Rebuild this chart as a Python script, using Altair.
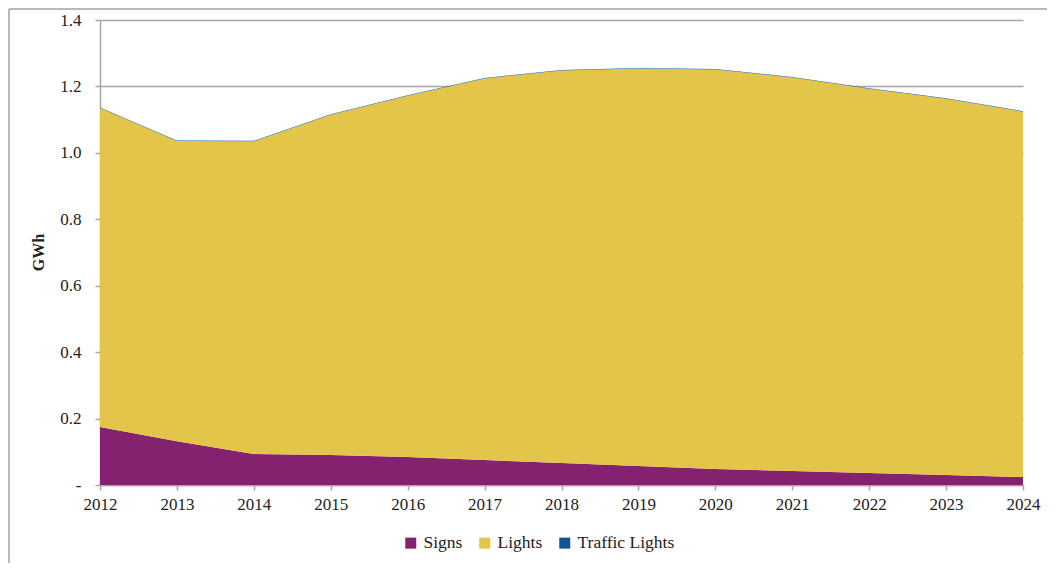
import altair as alt
import pandas as pd

years = [2012, 2013, 2014, 2015, 2016, 2017, 2018, 2019, 2020, 2021, 2022, 2023, 2024]
signs = [0.175, 0.132, 0.093, 0.090, 0.084, 0.075, 0.066, 0.057, 0.048, 0.042, 0.036, 0.030, 0.024]
lights = [0.960, 0.904, 0.942, 1.025, 1.088, 1.149, 1.182, 1.197, 1.203, 1.185, 1.157, 1.133, 1.100]
traffic = [0.0015, 0.0015, 0.0015, 0.0015, 0.0015, 0.0015, 0.0015, 0.0015, 0.0015, 0.0015, 0.0015, 0.0015, 0.0015]
series = ["Signs", "Lights", "Traffic Lights"]
colors = ["#85226F", "#E3C54A", "#0F5499"]

rows = []
for i, y in enumerate(years):
    for k, (name, vals) in enumerate(zip(series, [signs, lights, traffic])):
        rows.append({"year": y, "series": name, "value": vals[i], "ord": k})
df = pd.DataFrame(rows)

FONT = "Liberation Serif"
GRAY = "#A6A6A6"

area = alt.Chart(df).mark_area(opacity=1).encode(
    x=alt.X("year:Q", scale=alt.Scale(domain=[2012, 2024], nice=False),
            axis=alt.Axis(values=years, format="d", title=None, grid=False,
                          labelFlush=False, labelOverlap=False,
                          domainColor=GRAY, domainWidth=1.5, tickColor=GRAY,
                          tickSize=5, tickWidth=1.5, labelPadding=6,
                          labelFont=FONT, labelFontSize=17, labelColor="#222222")),
    y=alt.Y("value:Q", stack="zero",
            scale=alt.Scale(domain=[0, 1.4], nice=False),
            axis=alt.Axis(values=[0, 0.2, 0.4, 0.6, 0.8, 1.0, 1.2, 1.4],
                          labelExpr="datum.value == 0 ? '-' : format(datum.value, '.1f')",
                          title="GWh", titleFont=FONT, titleFontSize=16,
                          titleFontWeight="bold", titleColor="#222222",
                          titleX=-62, titleY=232, titleAngle=-90,
                          titleAlign="center", titleBaseline="middle",
                          grid=True, gridColor=GRAY, gridWidth=1.5,
                          domainColor=GRAY, domainWidth=1.5, tickColor=GRAY,
                          tickSize=5, tickWidth=1.5, labelPadding=14,
                          labelFont=FONT, labelFontSize=17, labelColor="#222222")),
    color=alt.Color("series:N", sort=series,
                    scale=alt.Scale(domain=series, range=colors),
                    legend=alt.Legend(title=None, orient="none", direction="horizontal",
                                      legendX=302, legendY=514,
                                      symbolType="square", symbolSize=121,
                                      symbolStrokeWidth=0, symbolOpacity=1,
                                      labelFont=FONT, labelFontSize=17.5,
                                      labelColor="#222222", columnPadding=13,
                                      labelOffset=4)),
    order=alt.Order("ord:Q"),
)

frame = pd.DataFrame({"a": [0]})
border_left = alt.Chart(frame).mark_rule(color="#A0A0A0", strokeWidth=1.5).encode(
    x=alt.value(-91), y=alt.value(-11), y2=alt.value(700)
)
border_top = alt.Chart(frame).mark_rule(color="#A0A0A0", strokeWidth=1.5).encode(
    x=alt.value(-91), x2=alt.value(1100), y=alt.value(-11)
)

chart = alt.layer(border_left, border_top, area).properties(
    width=923, height=465,
    padding={"left": 92, "top": 12, "right": 24, "bottom": 78},
    autosize=alt.AutoSizeParams(type="none"),
).configure(background="white", view=alt.ViewConfig(stroke="transparent", strokeWidth=0))

chart.save("out.html", embed_options={"renderer": "svg", "actions": False})
